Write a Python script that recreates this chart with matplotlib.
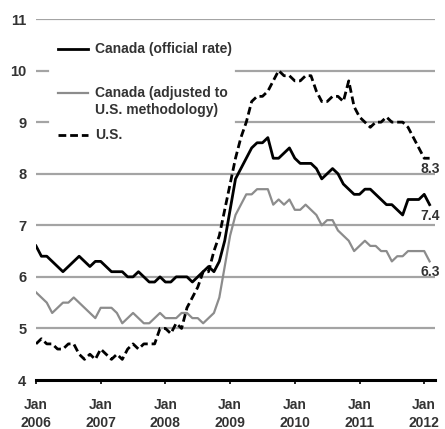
import numpy as np
import matplotlib
matplotlib.use("Agg")
import matplotlib.pyplot as plt

plt.rcParams['font.family'] = ['Liberation Sans', 'DejaVu Sans']

# monthly, Jan 2006 .. Feb 2012
canada_official = [
    6.6, 6.4, 6.4, 6.3, 6.2, 6.1, 6.2, 6.3, 6.4, 6.3, 6.2, 6.3,
    6.3, 6.2, 6.1, 6.1, 6.1, 6.0, 6.0, 6.1, 6.0, 5.9, 5.9, 6.0,
    5.9, 5.9, 6.0, 6.0, 6.0, 5.9, 6.0, 6.1, 6.2, 6.1, 6.3, 6.7,
    7.3, 7.9, 8.1, 8.3, 8.5, 8.6, 8.6, 8.7, 8.3, 8.3, 8.4, 8.5,
    8.3, 8.2, 8.2, 8.2, 8.1, 7.9, 8.0, 8.1, 8.0, 7.8, 7.7, 7.6,
    7.6, 7.7, 7.7, 7.6, 7.5, 7.4, 7.4, 7.3, 7.2, 7.5, 7.5, 7.5,
    7.6, 7.4,
]
canada_adjusted = [
    5.7, 5.6, 5.5, 5.3, 5.4, 5.5, 5.5, 5.6, 5.5, 5.4, 5.3, 5.2,
    5.4, 5.4, 5.4, 5.3, 5.1, 5.2, 5.3, 5.2, 5.1, 5.1, 5.2, 5.3,
    5.2, 5.2, 5.2, 5.3, 5.3, 5.2, 5.2, 5.1, 5.2, 5.3, 5.6, 6.2,
    6.8, 7.2, 7.4, 7.6, 7.6, 7.7, 7.7, 7.7, 7.4, 7.5, 7.4, 7.5,
    7.3, 7.3, 7.4, 7.3, 7.2, 7.0, 7.1, 7.1, 6.9, 6.8, 6.7, 6.5,
    6.6, 6.7, 6.6, 6.6, 6.5, 6.5, 6.3, 6.4, 6.4, 6.5, 6.5, 6.5,
    6.5, 6.3,
]
us_rate = [
    4.7, 4.8, 4.7, 4.7, 4.6, 4.6, 4.7, 4.7, 4.5, 4.4, 4.5, 4.4,
    4.6, 4.5, 4.4, 4.5, 4.4, 4.6, 4.7, 4.6, 4.7, 4.7, 4.7, 5.0,
    5.0, 4.9, 5.1, 5.0, 5.4, 5.6, 5.8, 6.1, 6.1, 6.5, 6.8, 7.3,
    7.8, 8.3, 8.7, 9.0, 9.4, 9.5, 9.5, 9.6, 9.8, 10.0, 9.9, 9.9,
    9.8, 9.8, 9.9, 9.9, 9.6, 9.4, 9.4, 9.5, 9.5, 9.4, 9.8, 9.3,
    9.1, 9.0, 8.9, 9.0, 9.0, 9.1, 9.0, 9.0, 9.0, 8.9, 8.7, 8.5,
    8.3, 8.3,
]
series_names = ['Canada (official rate)',
                'Canada (adjusted to\nU.S. methodology)',
                'U.S.']
years = ['2006', '2007', '2008', '2009', '2010', '2011', '2012']
y_ticks = [4, 5, 6, 7, 8, 9, 10, 11]

months = np.arange(len(us_rate))
tick_pos = [12 * i for i in range(len(years))]
tick_labels = ['Jan\n' + y for y in years]

TXT = '#333333'
GRID = '#a4a4a4'
W, H = 445, 429
AX_L, AX_R, AX_T, AX_B = 36, 435, 19, 380   # axes box in pixels

fig = plt.figure(figsize=(W / 100, H / 100), dpi=100)
ax = fig.add_axes([AX_L / W, (H - AX_B) / H, (AX_R - AX_L) / W, (AX_B - AX_T) / H])


def px(x, y):
    # pixel position -> axes fraction (only for the hand-made legend)
    return (x - AX_L) / (AX_R - AX_L), (AX_B - y) / (AX_B - AX_T)


# grid lines; the ones at 9 and 10 break where the legend sits
gap_from, _ = px(48, 0)
gap_to, _ = px(236, 0)
for v in y_ticks[1:]:
    if v in (9, 10):
        ax.axhline(v, 0, gap_from, color=GRID, lw=1.6, zorder=1)
        ax.axhline(v, gap_to, 1, color=GRID, lw=1.6, zorder=1)
    else:
        ax.axhline(v, color=GRID, lw=1.6, zorder=1)

styles = [dict(color='black', lw=2.0),
          dict(color='#8c8c8c', lw=1.6),
          dict(color='black', lw=2.0, dashes=(2.8, 1.4))]
data = [canada_official, canada_adjusted, us_rate]
zorders = [4, 3, 3]
for vals, st, z in zip(data, styles, zorders):
    ax.plot(months, vals, zorder=z, **st)

# end labels
for vals in data:
    ax.annotate(f'{vals[-1]:.1f}', xy=(months[-1], vals[-1]),
                xytext=(1, -11), textcoords='offset pixels',
                ha='center', va='center', fontsize=10, fontweight='bold',
                color=TXT, zorder=6)

# hand-made legend: handle sits on the first line of each label
rows = [49, 93, 135]
for name, st, ry in zip(series_names, styles, rows):
    hx0, hy = px(58, ry)
    hx1, _ = px(88, ry)
    ax.plot([hx0, hx1], [hy, hy], transform=ax.transAxes, zorder=3, **st)
    tx, ty = px(95, ry - 7)
    ax.text(tx, ty, name, transform=ax.transAxes, ha='left', va='top',
            fontsize=10, fontweight='bold', color=TXT, linespacing=1.3,
            zorder=3)

ax.set_xlim(0, 74)
ax.set_ylim(4, 11)
ax.set_yticks(y_ticks)
ax.set_xticks(tick_pos)
ax.set_xticklabels(tick_labels, linespacing=1.35)
ax.tick_params(axis='y', length=0, pad=7, labelsize=10.5, labelcolor=TXT)
ax.tick_params(axis='x', length=3, width=1.2, direction='out', pad=10,
               labelsize=10, labelcolor=TXT)
for lab in ax.get_xticklabels() + ax.get_yticklabels():
    lab.set_fontweight('bold')

for s in ('top', 'right', 'left'):
    ax.spines[s].set_visible(False)
ax.spines['bottom'].set_linewidth(2.2)
ax.spines['bottom'].set_zorder(5)

fig.savefig('out.png', dpi=100)
